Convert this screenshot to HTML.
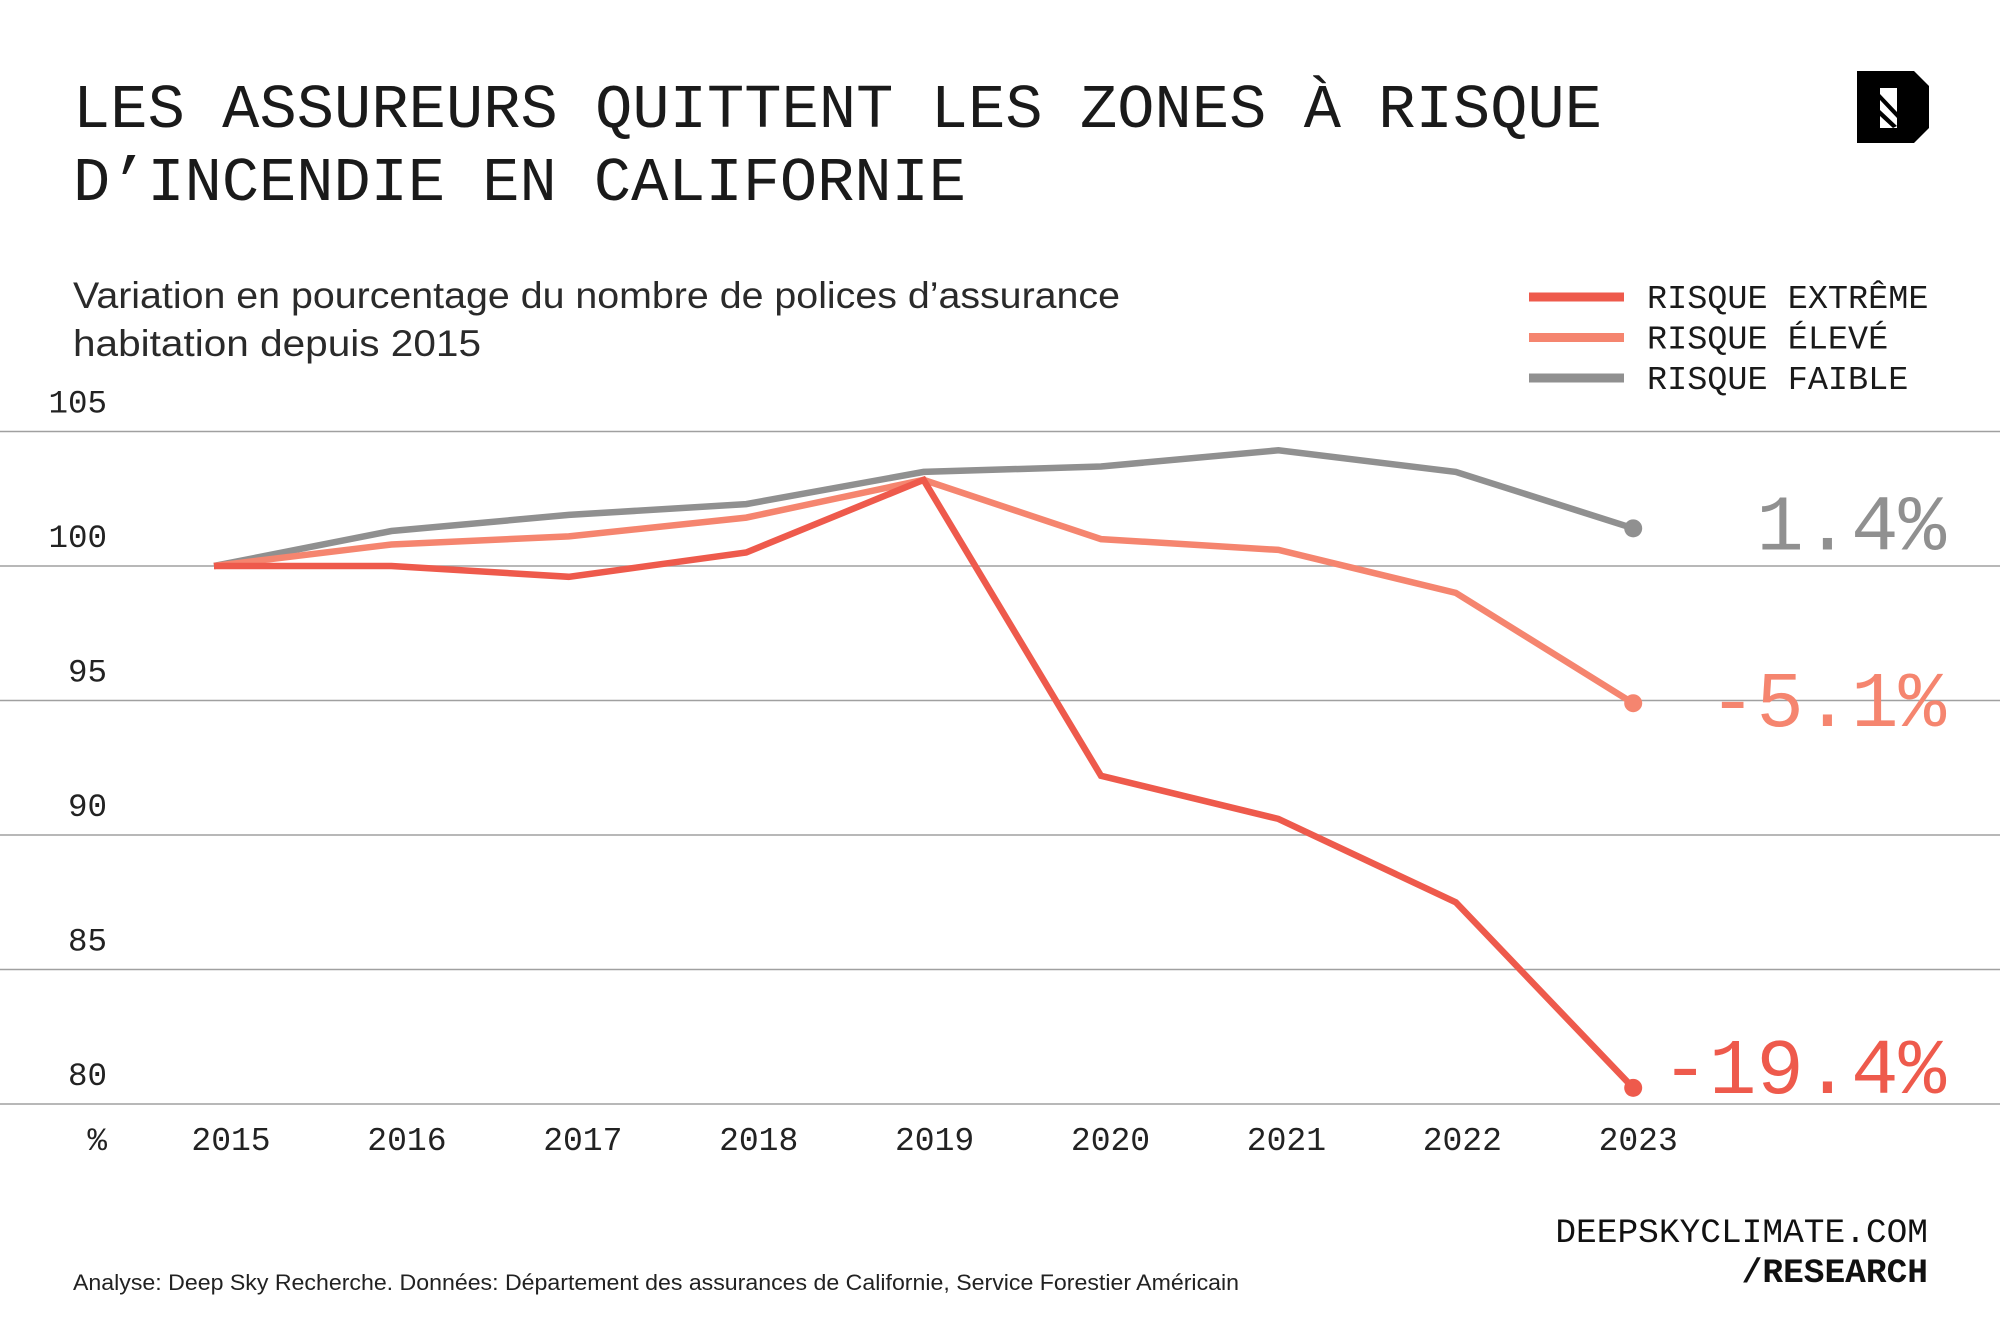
<!DOCTYPE html>
<html lang="fr">
<head>
<meta charset="utf-8">
<title>Les assureurs quittent les zones à risque d'incendie en Californie</title>
<style>
  html, body { margin: 0; padding: 0; background: #fff; }
  body { width: 2000px; height: 1334px; overflow: hidden; position: relative; }
  svg { position: absolute; left: 0; top: 0; }
  .mono { font-family: "Liberation Mono", "DejaVu Sans Mono", monospace; }
  .sans { font-family: "Liberation Sans", "DejaVu Sans", sans-serif; }
</style>
</head>
<body>
<svg id="chart" width="2000" height="1334" viewBox="0 0 2000 1334" xmlns="http://www.w3.org/2000/svg">
  <g>
    <text class="mono" x="73" y="127" font-size="62" fill="#1a1a1a" textLength="1529" lengthAdjust="spacing">LES ASSUREURS QUITTENT LES ZONES À RISQUE</text>
    <text class="mono" x="73" y="200" font-size="62" fill="#1a1a1a">D’INCENDIE EN CALIFORNIE</text>
  </g>
  <g>
    <path d="M1857 71 H1914 L1929 86 V128 L1914 143 H1857 Z" fill="#000"/>
    <rect x="1880" y="88" width="17" height="40" fill="#fff"/>
    <path d="M1880 94 L1897 112 L1897 118 L1880 100 Z M1880 110 L1897 126 L1893 128 L1880 116 Z" fill="#000"/>
  </g>
  <g fill="#2a2a2a">
    <text class="sans" x="73" y="308" font-size="37" textLength="1047" lengthAdjust="spacingAndGlyphs">Variation en pourcentage du nombre de polices d’assurance</text>
    <text class="sans" x="73" y="356" font-size="37" textLength="408" lengthAdjust="spacingAndGlyphs">habitation depuis 2015</text>
  </g>
  <g id="legend"></g>
  <g id="grid"></g>
  <g id="yaxis"></g>
  <g id="xaxis"></g>
  <g id="series"></g>
  <g id="endlabels"></g>
  <g>
    <text class="sans" x="73" y="1290" font-size="22" fill="#222" textLength="1166" lengthAdjust="spacingAndGlyphs">Analyse: Deep Sky Recherche. Données: Département des assurances de Californie, Service Forestier Américain</text>
    <text class="mono" x="1928" y="1242" font-size="34.5" fill="#111" text-anchor="end">DEEPSKYCLIMATE.COM</text>
    <text class="mono" x="1928" y="1282" font-size="34.5" font-weight="bold" fill="#111" text-anchor="end">/RESEARCH</text>
  </g>
</svg>
<script>
const years = ["2015","2016","2017","2018","2019","2020","2021","2022","2023"];
const extreme = [100, 100, 99.6, 100.5, 103.2, 92.2, 90.6, 87.5, 80.6];
const eleve = [100, 100.8, 101.1, 101.8, 103.2, 101.0, 100.6, 99.0, 94.9];
const faible = [100, 101.3, 101.9, 102.3, 103.5, 103.7, 104.3, 103.5, 101.4];
const yTicks = [105, 100, 95, 90, 85, 80];
const seriesNames = ["RISQUE EXTRÊME", "RISQUE ÉLEVÉ", "RISQUE FAIBLE"];
const endLabels = ["-19.4%", "-5.1%", "1.4%"];

const NS = "http://www.w3.org/2000/svg";
const X0 = 214, XSTEP = 177.4;
const LABEL_X0 = 231, LABEL_STEP = 175.9;
const Y100 = 566, PX_PER_UNIT = 26.9;
const END_LABEL_DY = [5, 23, 21];
function xScale(i) { return X0 + i * XSTEP; }
function yScale(v) { return Y100 - (v - 100) * PX_PER_UNIT; }
function mk(tag, attrs, parent) {
  const el = document.createElementNS(NS, tag);
  for (const k in attrs) el.setAttribute(k, attrs[k]);
  parent.appendChild(el);
  return el;
}

const colors = ["#ee5a4c", "#f5856f", "#909090"];
const allSeries = [extreme, eleve, faible];
const keys = ["extreme", "eleve", "faible"];

const grid = document.getElementById("grid");
const yaxis = document.getElementById("yaxis");
yTicks.forEach(t => {
  const y = yScale(t);
  const ln = mk("line", {x1: 0, x2: 2000, y1: y, y2: y, stroke: "#a0a0a0", "stroke-width": 1.6}, grid);
  
  
  const tx = mk("text", {x: 107, y: y - 19, "font-size": 32.5, fill: "#222", "text-anchor": "end", class: "mono"}, yaxis);
  tx.textContent = t;
  
  
});

const xaxis = document.getElementById("xaxis");
const pct = mk("text", {x: 107, y: 1150, "font-size": 32.5, fill: "#222", "text-anchor": "end", class: "mono"}, xaxis);
pct.textContent = "%";


years.forEach((yr, i) => {
  const tx = mk("text", {x: LABEL_X0 + i * LABEL_STEP, y: 1150, "font-size": 33, fill: "#222", "text-anchor": "middle", class: "mono"}, xaxis);
  tx.textContent = yr;
  
  
});

const series = document.getElementById("series");
const endG = document.getElementById("endlabels");
[2, 1, 0].forEach(s => {
  const vals = allSeries[s];
  const pts = vals.map((v, i) => xScale(i).toFixed(1) + "," + yScale(v).toFixed(1)).join(" ");
  const pl = mk("polyline", {points: pts, fill: "none", stroke: colors[s], "stroke-width": 6.5, "stroke-linejoin": "miter", "stroke-linecap": "butt"}, series);
  
  
  const last = vals.length - 1;
  const dot = mk("circle", {cx: xScale(last), cy: yScale(vals[last]), r: 9, fill: colors[s]}, series);
  
  
  const lab = mk("text", {x: 1946, y: yScale(vals[last]) + END_LABEL_DY[s], "font-size": 79, fill: colors[s], "text-anchor": "end", class: "mono"}, endG);
  lab.textContent = endLabels[s];
  
  
});

const legend = document.getElementById("legend");
seriesNames.forEach((name, s) => {
  const y = 297 + s * 40.5;
  const ln = mk("line", {x1: 1529, x2: 1624, y1: y, y2: y, stroke: colors[s], "stroke-width": 9}, legend);
  
  
  const tx = mk("text", {x: 1647, y: y + 11, "font-size": 33.5, fill: "#1a1a1a", class: "mono"}, legend);
  tx.textContent = name;
  
  
});
</script>
</body>
</html>
